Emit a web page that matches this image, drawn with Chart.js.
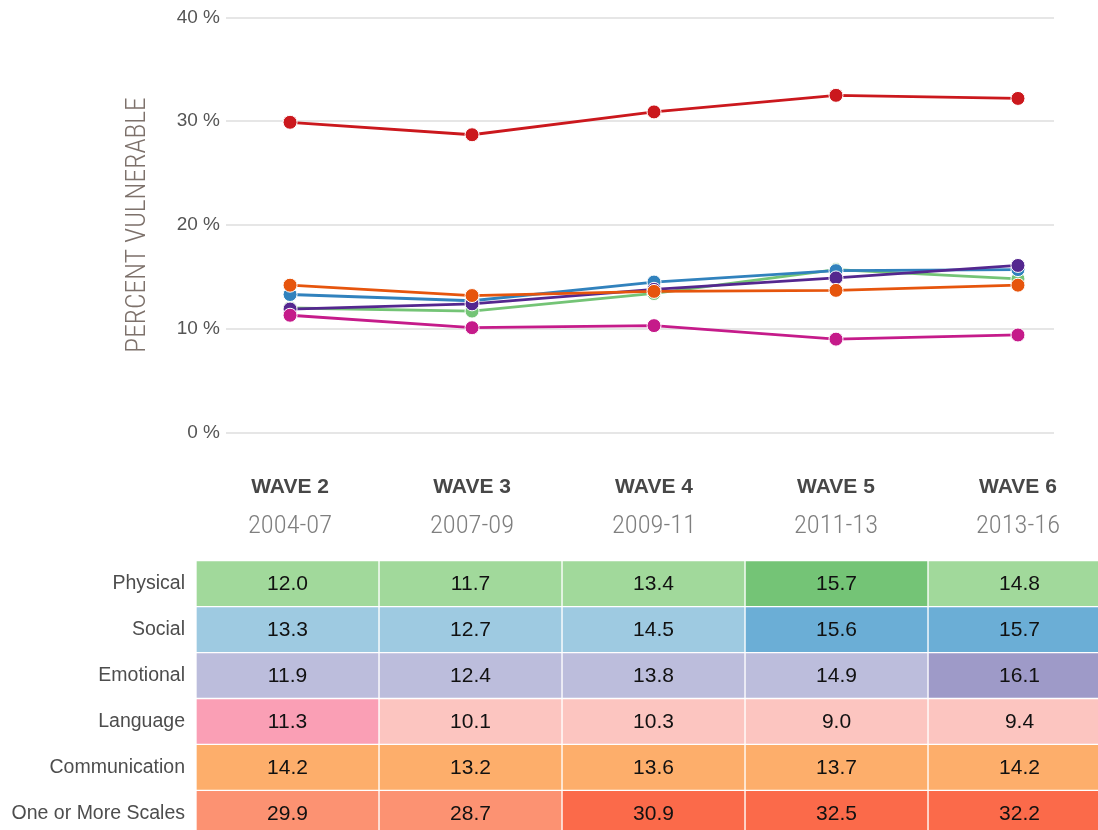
<!DOCTYPE html>
<html><head><meta charset="utf-8">
<script src="https://cdn.jsdelivr.net/npm/chart.js@4.4.0/dist/chart.umd.min.js"></script>
<style>
html,body{margin:0;padding:0;background:#fff;overflow:hidden;width:1098px;height:830px;}
#c1{position:absolute;left:0;top:0;}
#c2{position:absolute;left:0;top:538px;}
</style></head><body>
<canvas id="c1" width="1098" height="545"></canvas>
<canvas id="c2" width="1115" height="321"></canvas>
<script>
// ---- data ----
const waves = ['WAVE 2','WAVE 3','WAVE 4','WAVE 5','WAVE 6'];
const years = ['2004-07','2007-09','2009-11','2011-13','2013-16'];
const scaleNames = ['Physical','Social','Emotional','Language','Communication','One or More Scales'];
const physical = [12.0,11.7,13.4,15.7,14.8];
const social = [13.3,12.7,14.5,15.6,15.7];
const emotional = [11.9,12.4,13.8,14.9,16.1];
const language = [11.3,10.1,10.3,9.0,9.4];
const communication = [14.2,13.2,13.6,13.7,14.2];
const oneOrMore = [29.9,28.7,30.9,32.5,32.2];
const yTicks = [0,10,20,30,40];

// ---- styles ----
const lineColors = ['#74c476','#3182bd','#54278f','#c51b8a','#e6550d','#cb181d'];
const drawOrder = [5,4,3,1,2,0];
const physicalCells = ['#a1d99b','#a1d99b','#a1d99b','#74c476','#a1d99b'];
const socialCells = ['#9ecae1','#9ecae1','#9ecae1','#6baed6','#6baed6'];
const emotionalCells = ['#bcbddc','#bcbddc','#bcbddc','#bcbddc','#9e9ac8'];
const languageCells = ['#fa9fb5','#fcc5c0','#fcc5c0','#fcc5c0','#fcc5c0'];
const communicationCells = ['#fdae6b','#fdae6b','#fdae6b','#fdae6b','#fdae6b'];
const oneOrMoreCells = ['#fc9272','#fc9272','#fb6a4a','#fb6a4a','#fb6a4a'];

const rows = [physical, social, emotional, language, communication, oneOrMore];
const rowCells = [physicalCells, socialCells, emotionalCells, languageCells, communicationCells, oneOrMoreCells];

Chart.defaults.font.family = "'Liberation Sans', Arial, sans-serif";
Chart.defaults.animation = false;

const narrow = "'Liberation Sans Narrow', 'Roboto Condensed', 'Liberation Sans', Arial, sans-serif";
const setIdxTicks = s => { s.ticks = waves.map((_, i) => ({value: i})); };
const fixX = h => s => { s.height = h; s.paddingLeft = 0; s.paddingRight = 0; };

// ---- line chart ----
new Chart(document.getElementById('c1'), {
  type: 'line',
  data: {
    datasets: rows.map((vals, r) => ({
      label: scaleNames[r],
      data: vals.map((v, i) => ({x: i, y: v})),
      borderColor: lineColors[r],
      backgroundColor: lineColors[r],
      pointBackgroundColor: lineColors[r],
      pointBorderColor: '#ffffff',
      pointBorderWidth: 1,
      pointRadius: 7,
      borderWidth: 2.8,
      tension: 0,
      order: drawOrder[r]
    }))
  },
  options: {
    responsive: false,
    layout: {padding: {top: 17.5, right: 44, bottom: 3.1, left: 0}},
    plugins: {legend: {display: false}, tooltip: {enabled: false}},
    scales: {
      x: {
        type: 'linear', min: -0.352, max: 4.198, weight: 0,
        afterBuildTicks: setIdxTicks,
        afterFit: fixX(67.1),
        grid: {display: false, drawTicks: false}, border: {display: false},
        ticks: {autoSkip: false, maxRotation: 0, padding: 41.9, color: '#474747',
          font: {size: 21, weight: 'bold'},
          callback: (v, i) => waves[i]}
      },
      x2: {
        type: 'linear', position: 'bottom', min: -0.352, max: 4.198, weight: 1,
        afterBuildTicks: setIdxTicks,
        afterFit: fixX(42.3),
        grid: {display: false, drawTicks: false}, border: {display: false},
        ticks: {autoSkip: false, maxRotation: 0, padding: 10.5, color: '#7f7f7f',
          font: {size: 26.5, weight: '300', family: narrow},
          callback: (v, i) => years[i]}
      },
      y: {
        min: 0, max: 40,
        afterBuildTicks: s => { s.ticks = yTicks.map(v => ({value: v})); },
        afterFit: s => { s.width = 226; },
        grid: {color: '#e6e6e6', lineWidth: 2, drawTicks: false}, border: {display: false},
        ticks: {padding: 6, color: '#555555', font: {size: 19}, callback: v => v + ' %'},
        title: {display: true, text: 'PERCENT VULNERABLE', color: '#7d716b',
          font: {size: 27.5, weight: '300', family: narrow}, padding: {top: 121.5, bottom: 0}}
      }
    }
  }
});

// ---- table chart ----
const cellText = {
  id: 'cellText',
  afterDatasetsDraw(chart) {
    const ctx = chart.ctx;
    ctx.save();
    ctx.fillStyle = '#111111';
    ctx.font = "21px 'Liberation Sans', Arial, sans-serif";
    ctx.textAlign = 'center';
    ctx.textBaseline = 'middle';
    chart.data.datasets.forEach((ds, c) => {
      chart.getDatasetMeta(c).data.forEach((bar, r) => {
        const p = bar.getCenterPoint();
        ctx.fillText(rows[r][c].toFixed(1), p.x, p.y + 1);
      });
    });
    ctx.restore();
  }
};

new Chart(document.getElementById('c2'), {
  type: 'bar',
  data: {
    labels: scaleNames,
    datasets: waves.map((w, c) => ({
      label: w,
      data: scaleNames.map(() => [c, c + 1]),
      backgroundColor: rowCells.map(rc => rc[c]),
      borderColor: '#ffffff',
      borderWidth: 1,
      borderSkipped: false,
      grouped: false,
      categoryPercentage: 1,
      barPercentage: 1
    }))
  },
  options: {
    indexAxis: 'y',
    responsive: false,
    layout: {padding: {top: 0, right: 4, bottom: 0, left: 0}},
    plugins: {legend: {display: false}, tooltip: {enabled: false}},
    scales: {
      x: {type: 'linear', min: 0, max: 5, display: false},
      y: {
        afterFit: s => { s.width = 196; },
        grid: {display: false, drawTicks: false}, border: {display: false},
        ticks: {padding: 11, color: '#4d4d4d', font: {size: 19.5}}
      }
    }
  },
  plugins: [cellText]
});
</script>
</body></html>
